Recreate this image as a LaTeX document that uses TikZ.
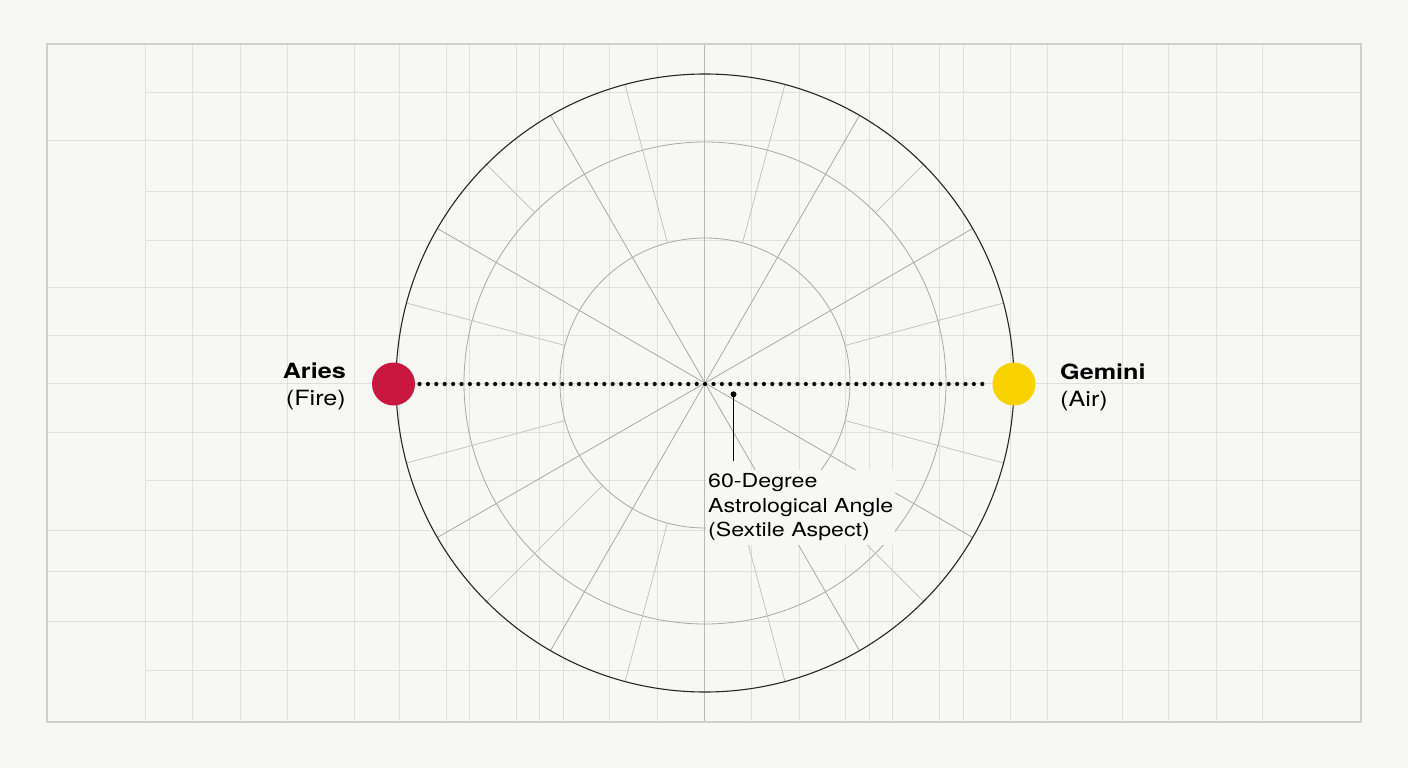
\documentclass[tikz,border=0pt]{standalone}
\usepackage{fontspec}
\setmainfont{TeX Gyre Heros}[FakeStretch=1.2]
\definecolor{bgc}{RGB}{247,247,243}
\definecolor{gridc}{RGB}{224,224,219}
\definecolor{gridb}{RGB}{208,208,203}
\definecolor{axisc}{RGB}{185,185,182}
\definecolor{spokec}{RGB}{160,160,160}
\definecolor{spokel}{RGB}{190,190,188}
\definecolor{ringc}{RGB}{168,168,166}
\definecolor{ariesc}{RGB}{200,24,64}
\definecolor{geminic}{RGB}{248,211,0}
\begin{document}
\begin{tikzpicture}[x=1pt,y=-1pt,
  gridline/.style={draw=gridc,line width=0.9pt},
  gridborder/.style={draw=gridb,line width=1.1pt},
  axisline/.style={draw=axisc,line width=1pt},
  outerring/.style={draw=black!85,line width=1.1pt},
  ring/.style={draw=ringc,line width=0.8pt},
  spoke/.style={draw=spokec,line width=0.7pt},
  spokelight/.style={draw=spokel,line width=0.7pt},
  planet/.style={circle,inner sep=0pt,minimum size=43pt},
  dotline/.style={draw=black,line width=4.2pt,line cap=round,dash pattern=on 0pt off 8.4pt},
  lbl/.style={inner sep=0pt,font=\fontsize{21}{27}\selectfont},
  annot/.style={fill=bgc,inner xsep=2pt,inner ysep=4pt,align=left,font=\fontsize{19.3}{24.5}\selectfont},
  leader/.style={draw=black,line width=1.5pt},
  leaderdot/.style={circle,fill=black,inner sep=0pt,minimum size=6pt}]
\fill[bgc] (0,0) rectangle (1408,768);
\useasboundingbox (0,0) rectangle (1408,768);
% grid
\foreach \y in {92,191,240,480,670} \draw[gridline] (145,\y) -- (1361,\y);
\foreach \y in {140,287,335,383,432,530,571,621} \draw[gridline] (47,\y) -- (1361,\y);
\foreach \x in {145,192,240,287,354,399,446,469,516,539,563,609,657,751,799,845,869,892,939,963,1010,1047,1122,1168,1216,1262}
  \draw[gridline] (\x,44) -- (\x,722);
\draw[axisline] (704,44) -- (704,722);
\draw[gridborder] (47,44) rectangle (1361,722);
% wheel
\coordinate (c) at (705,383);
\draw[ring] (c) circle[radius=241];
\draw[ring] (c) circle[radius=145];
\foreach \a in {30,60,120,150,210,240,300,330}
  \draw[spoke] (c) -- +(-\a:309);
\foreach \a in {15,75,105,165,195,225,255,285,315,345}
  \draw[spokelight,shift={(c)}] (-\a:145) -- (-\a:309);
\foreach \a in {45,135}
  \draw[spokelight,shift={(c)}] (-\a:241) -- (-\a:309);
\draw[outerring] (c) circle[radius=309];
% planets
\node[planet,fill=ariesc] (aries) at (393.5,384) {};
\node[planet,fill=geminic] (gemini) at (1014,384) {};
\draw[dotline,shorten <=26pt,shorten >=23.5pt] (aries.center) -- (gemini.center);
% labels
\node[lbl,anchor=north east,align=right] (arieslbl) at (346,363) {\textbf{Aries}\\(Fire)};
\node[lbl,anchor=north west,align=left] (geminilbl) at (1060,363.5) {\textbf{Gemini}\\(Air)};
% annotation
\node[annot,anchor=north west] (ann) at (706,469.4) {60-Degree\\Astrological Angle\\(Sextile Aspect)};
\node[leaderdot] (ld) at (733.5,394.3) {};
\draw[leader,shorten >=8pt] (ld.center) -- (ld.center |- ann.north);
\end{tikzpicture}
\end{document}
